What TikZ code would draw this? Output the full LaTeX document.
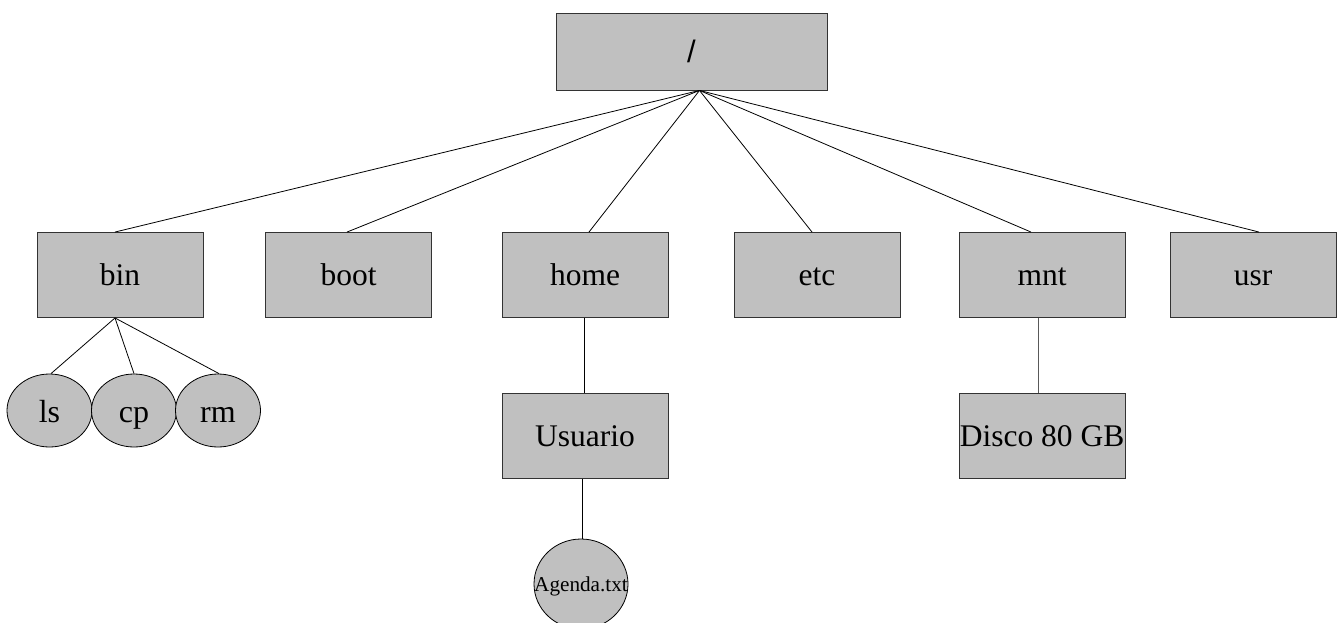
\documentclass[tikz,border=0pt]{standalone}
\usepackage{fontspec}
\setmainfont{Liberation Serif}
\newfontfamily\slashfont{Liberation Sans}
\usetikzlibrary{calc,shapes.geometric}
\definecolor{boxfill}{HTML}{C0C0C0}
\definecolor{boxline}{HTML}{333333}
\tikzset{
  dirbox/.style={draw=boxline, fill=boxfill, line width=0.9pt, rectangle,
    minimum width=166pt, minimum height=85pt, inner sep=0pt,
    font=\fontsize{31.5}{36}\selectfont, text height=24pt, text depth=4pt},
  filenode/.style={draw=black, fill=boxfill, line width=0.8pt, ellipse,
    minimum width=85pt, minimum height=73pt, inner sep=0pt,
    font=\fontsize{32}{36}\selectfont, text height=27pt, text depth=4pt},
  link/.style={draw=black, line width=0.8pt},
  greylink/.style={draw=black!65, line width=1pt},
}
\begin{document}
\begin{tikzpicture}[x=1pt, y=-1pt]
  \clip (0,0) rectangle (1337,623);
  \fill[white] (0,0) rectangle (1337,623);

  % root directory
  \node[dirbox, minimum width=271pt, minimum height=77pt,
        font=\fontsize{31}{36}\slashfont, text height=, text depth=] (root) at (691.5,51.5) {/};
  \coordinate (apex) at ($(root.south)+(8,0)$);

  % first level directories
  \node[dirbox] (bin)  at (120,275)   {bin};
  \node[dirbox] (boot) at (348.5,275) {boot};
  \node[dirbox] (home) at (585,275)   {home};
  \node[dirbox] (etc)  at (817,275)   {etc};
  \node[dirbox] (mnt)  at (1042,275)  {mnt};
  \node[dirbox] (usr)  at (1253,275)  {usr};

  % contents of bin
  \node[filenode] (ls) at (49.5,410.5) {ls};
  \node[filenode] (cp) at (134,410.5)  {cp};
  \node[filenode] (rm) at (218,410.5)  {rm};

  % home and mount point
  \node[dirbox] (usuario) at (585,436) {Usuario};
  \node[dirbox] (disco)   at (1042,436) {\makebox[0pt]{Disco 80 GB}};
  \node[filenode, minimum width=94pt, minimum height=90pt,
        font=\fontsize{21.2}{25}\selectfont, text height=17pt, text depth=3pt]
        (agenda) at (581,584) {\makebox[0pt]{Agenda.txt}};

  % links from the root
  \draw[link] (apex) -- ($(bin.north)+(-5,0)$);
  \draw[link] (apex) -- ($(boot.north)+(-1.5,0)$);
  \draw[link] (apex) -- ($(home.north)+(4,0)$);
  \draw[link] (apex) -- ($(etc.north)+(-5,0)$);
  \draw[link] (apex) -- ($(mnt.north)+(-11,0)$);
  \draw[link] (apex) -- ($(usr.north)+(6,0)$);

  % links below bin
  \coordinate (binfoot) at ($(bin.south)+(-5,0)$);
  \draw[link] (binfoot) -- ($(ls.north)+(1.5,0)$);
  \draw[link] (binfoot) -- (cp.north);
  \draw[link] (binfoot) -- ($(rm.north)+(1,0)$);

  % links below home and mnt
  \draw[link] ($(home.south)+(-1,0)$) -- ($(usuario.north)+(-1,0)$);
  \draw[link] ($(usuario.south)+(-3,0)$) -- ($(agenda.north)+(1,0)$);
  \draw[greylink] ($(mnt.south)+(-4,0)$) -- ($(disco.north)+(-4,0)$);
\end{tikzpicture}
\end{document}
